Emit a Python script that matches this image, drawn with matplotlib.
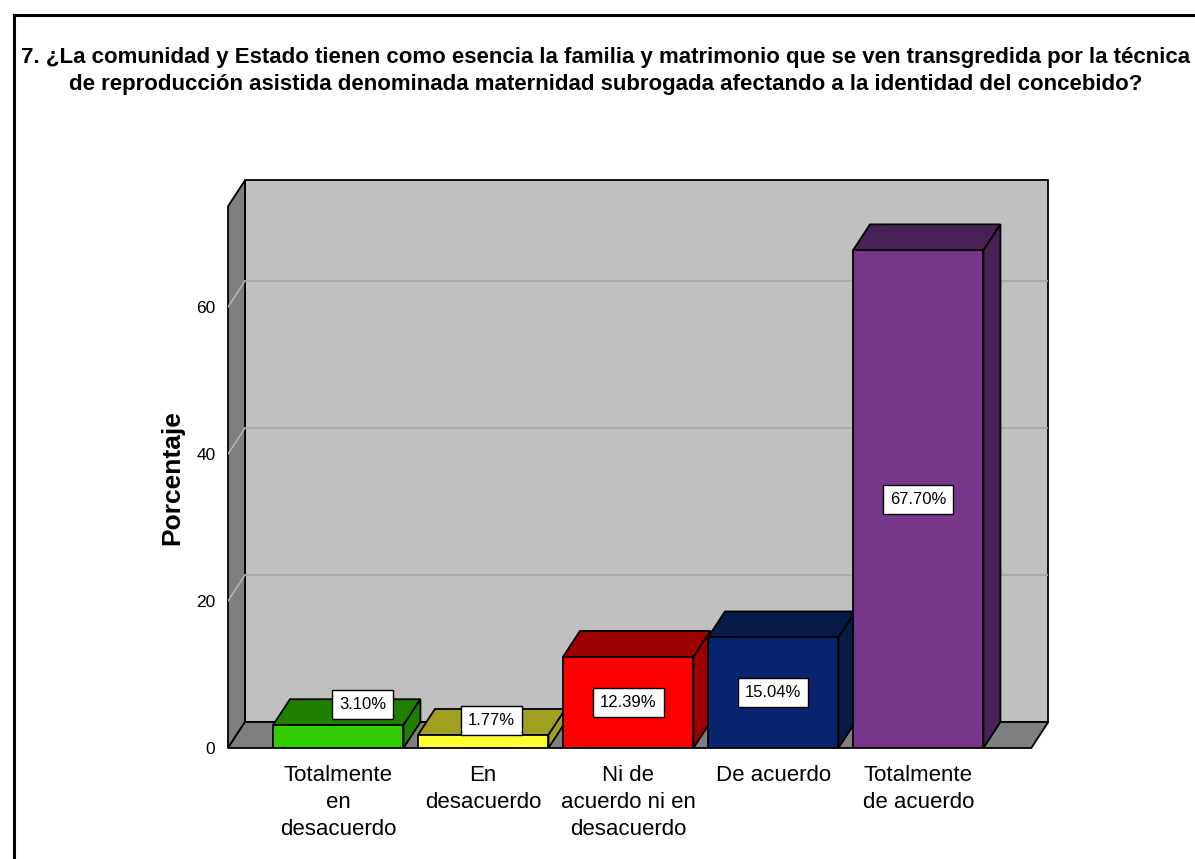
import matplotlib
matplotlib.use("Agg")
import numpy as np
import matplotlib.pyplot as plt
from matplotlib.patches import Polygon, Rectangle
from matplotlib.lines import Line2D
from matplotlib import font_manager

# ---------------- data ----------------
categories = ["Totalmente\nen\ndesacuerdo", "En\ndesacuerdo",
              "Ni de\nacuerdo ni en\ndesacuerdo", "De acuerdo",
              "Totalmente\nde acuerdo"]
percentages = [3.10, 1.77, 12.39, 15.04, 67.70]
value_labels = ["3.10%", "1.77%", "12.39%", "15.04%", "67.70%"]
yticks = [0, 20, 40, 60]
title = ("7. ¿La comunidad y Estado tienen como esencia la familia y matrimonio que se ven transgredida por la técnica\n"
         "de reproducción asistida denominada maternidad subrogada afectando a la identidad del concebido?")
ylabel = "Porcentaje"

# ---------------- style ----------------
front_colors = ["#33CC00", "#FFFF33", "#FF0000", "#0A2570", "#77368A"]
dark_colors = ["#217F00", "#A0A020", "#9E0000", "#071A48", "#4A2156"]
wall_back = "#C0C0C0"
wall_side = "#7F7F7F"

names = {f.name for f in font_manager.fontManager.ttflist}
wide = "Liberation Sans" if "Liberation Sans" in names else "DejaVu Sans"
lab_font = dict(family="Liberation Sans Narrow") if "Liberation Sans Narrow" in names else dict(family=wide)

W, H = 1195, 859
fig = plt.figure(figsize=(W / 100, H / 100), dpi=100)

px_x = 145.0
px_y = 7.35
ax_left_px, ax_right_px = 228, 1048
ax_bottom_px, ax_top_px = 748, 180
ax = fig.add_axes([ax_left_px / W, (H - ax_bottom_px) / H,
                   (ax_right_px - ax_left_px) / W, (ax_bottom_px - ax_top_px) / H])
xl = -0.76
xr = 4.78
ddx = 17 / px_x
ddy = 26 / px_y
ytop = 73.7
ax.set_xlim(xl, xl + (ax_right_px - ax_left_px) / px_x)
ax.set_ylim(0, (ax_bottom_px - ax_top_px) / px_y)
for s in ax.spines.values():
    s.set_visible(False)
ax.patch.set_alpha(0)

# walls
ax.add_patch(Rectangle((xl + ddx, ddy), xr - xl, ytop, facecolor=wall_back,
                       edgecolor="black", linewidth=1.3, zorder=1, clip_on=False))
ax.add_patch(Polygon([(xl, 0), (xl + ddx, ddy), (xl + ddx, ytop + ddy), (xl, ytop)],
                     closed=True, facecolor=wall_side, edgecolor="black",
                     linewidth=1.3, zorder=1, clip_on=False))
ax.add_patch(Polygon([(xl, 0), (xr, 0), (xr + ddx, ddy), (xl + ddx, ddy)],
                     closed=True, facecolor=wall_side, edgecolor="black",
                     linewidth=1.3, zorder=1, clip_on=False))
for v in yticks[1:]:
    ax.plot([xl + ddx, xr + ddx], [v + ddy, v + ddy], color="#A4A4A4", lw=1.2, zorder=2)
    ax.plot([xl, xl + ddx], [v, v + ddy], color="#B8B8B8", lw=1.0, zorder=2)

# bars
xs = np.arange(len(categories))
bars = ax.bar(xs, percentages, width=0.9, color=front_colors, edgecolor="black",
              linewidth=1.3, zorder=3)
label_dx = [0.17, 0.055, 0, 0, 0]
for i, (rect, dc) in enumerate(zip(bars, dark_colors)):
    z = 3 + i
    rect.set_zorder(z + 0.2)
    x0 = rect.get_x()
    x1 = x0 + rect.get_width()
    h = rect.get_height()
    ax.add_patch(Polygon([(x0, h), (x1, h), (x1 + ddx, h + ddy), (x0 + ddx, h + ddy)],
                         closed=True, facecolor=dc, edgecolor="black", lw=1.3, zorder=z))
    ax.add_patch(Polygon([(x1, 0), (x1 + ddx, ddy), (x1 + ddx, h + ddy), (x1, h)],
                         closed=True, facecolor=dc, edgecolor="black", lw=1.3, zorder=z))
    if h > 8:
        ly = h / 2
    else:
        ly = h + 0.8 * ddy - (0.9 if h < 2.5 else 0)
        if label_dx[i] > 0.1:
            # small leader line from the label down to the bar top
            cx = xs[i] + ddx / 2
            ax.plot([cx, cx], [h + ddy * 0.5, ly], color="black", lw=1.0, zorder=19)
    ax.text(xs[i] + label_dx[i], ly, value_labels[i], ha="center", va="center",
            fontsize=12, zorder=20, **lab_font,
            bbox=dict(boxstyle="square,pad=0.42", facecolor="white",
                      edgecolor="black", linewidth=1.0))

ax.set_yticks(yticks)
ax.set_yticklabels([str(t) for t in yticks], fontsize=12.5, **lab_font)
ax.tick_params(axis="y", length=0, pad=9)
ax.set_xticks(xs)
ax.set_xticklabels(categories, fontsize=16, **lab_font)
ax.tick_params(axis="x", length=0, pad=12)
for lbl in ax.get_xticklabels():
    lbl.set_linespacing(1.38)
    lbl.set_verticalalignment("top")

fig.text(172 / W, 1 - 478 / H, ylabel, rotation=90, ha="center", va="center",
         fontsize=19, fontweight="bold", family=wide)

fig.text(606 / W, 1 - 71 / H, title, ha="center", va="center", fontsize=16,
         fontweight="bold", family=wide, linespacing=1.35)

# outer frame
fig.add_artist(Line2D([14 / W, 14 / W], [0, 1 - 15 / H], color="black", lw=2.2,
                      transform=fig.transFigure))
fig.add_artist(Line2D([14 / W, 1], [1 - 15 / H, 1 - 15 / H], color="black", lw=2.2,
                      transform=fig.transFigure))

fig.savefig("out.png", dpi=100)
